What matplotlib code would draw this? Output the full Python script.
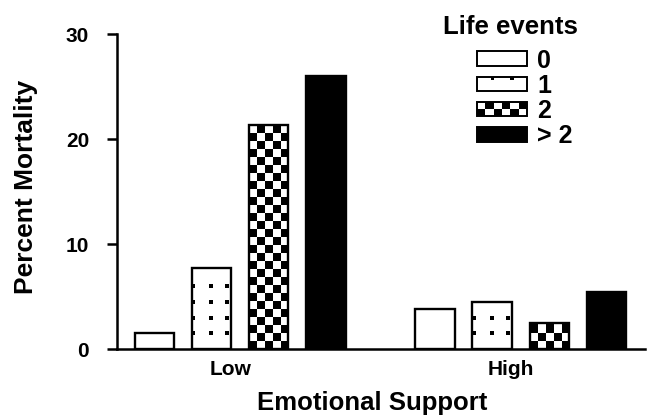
import matplotlib
matplotlib.use('Agg')
import matplotlib.pyplot as plt
from matplotlib.patches import Rectangle, Patch
from matplotlib.legend_handler import HandlerBase
import numpy as np

# data
groups = ['Low', 'High']
life_events = ['0', '1', '2', '> 2']
mortality = {
    '0':   [1.5, 3.8],
    '1':   [7.7, 4.5],
    '2':   [21.4, 2.5],
    '> 2': [26.0, 5.4],
}
patterns = ['plain', 'dots', 'checker', 'solid']

plt.rcParams['font.family'] = ['Liberation Sans', 'DejaVu Sans']
plt.rcParams['font.weight'] = 'bold'

fig = plt.figure(figsize=(6.52, 4.15), dpi=100)
ax = fig.add_axes([0.1794, 0.159, 0.8096, 0.758])

x = np.arange(len(groups))
step = 0.203
width = 0.142
sq_y = 0.76   # checker square height in data units

for i, (ev, pat) in enumerate(zip(life_events, patterns)):
    xs = x + (i - 1.5) * step
    fc = 'black' if pat == 'solid' else ('none' if pat == 'checker' else 'white')
    bars = ax.bar(xs, mortality[ev], width, facecolor=fc, edgecolor='black',
                  linewidth=1.7, zorder=3)
    for rect in bars:
        x0, w, h = rect.get_x(), rect.get_width(), rect.get_height()
        if pat == 'checker':
            nrows = int(np.ceil(h / sq_y))
            img = np.indices((nrows, 5)).sum(axis=0) % 2
            im = ax.imshow(img, cmap='gray', extent=(x0, x0 + w, 0, nrows * sq_y),
                           origin='lower', interpolation='nearest', aspect='auto',
                           zorder=2)
            im.set_clip_path(rect)
        elif pat == 'dots':
            ys = np.arange(1.5, h - 0.5, 1.5)
            for fx in (0.04, 0.48, 0.88):
                ax.scatter(np.full(len(ys), x0 + fx * w), ys, marker='s', s=8,
                           color='black', linewidths=0, zorder=4)

ax.set_xlim(-0.438, 1.441)
ax.set_ylim(0, 30)
ax.set_yticks([0, 10, 20, 30])
ax.set_xticks(x - 0.035)
ax.set_xticklabels(groups)
ax.tick_params(axis='x', length=0, pad=8, labelsize=15)
ax.tick_params(axis='y', length=7, width=1.8, direction='out', pad=13, labelsize=15)
for s in ['top', 'right']:
    ax.spines[s].set_visible(False)
for s in ['left', 'bottom']:
    ax.spines[s].set_linewidth(1.8)

ax.set_ylabel('Percent Mortality', fontsize=19, fontweight='bold')
ax.yaxis.set_label_coords(-0.15, 0.515)
ax.set_xlabel('Emotional Support', fontsize=18.5, fontweight='bold')
ax.xaxis.set_label_coords(0.483, -0.135)


class PatternHandler(HandlerBase):
    def __init__(self, kind):
        super().__init__()
        self.kind = kind

    def create_artists(self, legend, orig_handle, xdescent, ydescent,
                       width, height, fontsize, trans):
        x0, y0 = -xdescent, -ydescent
        arts = []
        fc = 'black' if self.kind == 'solid' else 'white'
        arts.append(Rectangle((x0, y0), width, height, facecolor=fc,
                              edgecolor='black', linewidth=1.4, transform=trans))
        if self.kind == 'checker':
            n = 6
            for c in range(n):
                for r in range(2):
                    if (c + r) % 2 == 0:
                        arts.append(Rectangle((x0 + c * width / n, y0 + r * height / 2),
                                              width / n, height / 2, facecolor='black',
                                              edgecolor='none', transform=trans))
        elif self.kind == 'dots':
            d = height * 0.25
            for fx in (0.27, 0.66):
                arts.append(Rectangle((x0 + fx * width, y0 + height - d), d, d,
                                      facecolor='black', edgecolor='none',
                                      transform=trans))
        return arts


handles = [Patch(label=ev) for ev in life_events]
hmap = {h: PatternHandler(p) for h, p in zip(handles, patterns)}
leg = ax.legend(handles=handles, handler_map=hmap, frameon=False, fontsize=18,
                loc='upper left', bbox_to_anchor=(0.7316, 0.883),
                bbox_transform=fig.transFigure, borderpad=0, borderaxespad=0,
                handlelength=2.0, handleheight=0.52, handletextpad=0.4,
                labelspacing=0.05)
fig.text(0.783, 1 - 15 / 415, 'Life events', ha='center', va='top',
         fontsize=18.5, fontweight='bold')

fig.savefig('out.png', dpi=100)
